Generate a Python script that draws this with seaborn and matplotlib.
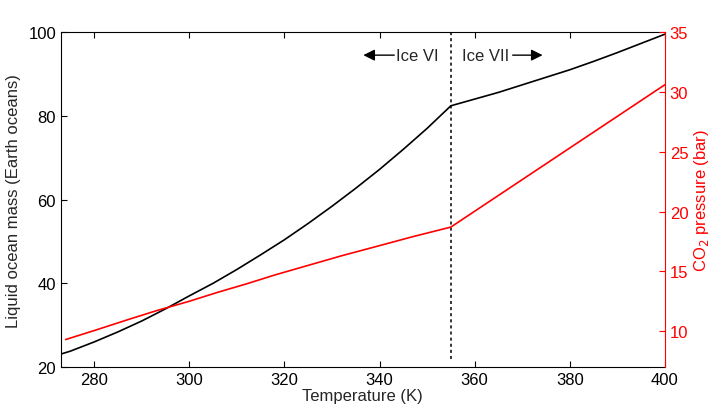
import pandas as pd
import matplotlib
matplotlib.use("Agg")
import matplotlib.pyplot as plt
import seaborn as sns

# liquid ocean mass (Earth oceans) vs temperature (K)
temp_mass = [273, 275, 280, 285, 290, 295, 300, 305, 310, 315, 320, 325, 330, 335,
             340, 345, 350, 355, 360, 365, 370, 375, 380, 385, 390, 395, 400]
ocean_mass = [23.1, 23.8, 26.0, 28.4, 31.0, 33.9, 37.0, 40.0, 43.3, 46.8, 50.4, 54.3, 58.4, 62.7,
              67.2, 72.0, 77.0, 82.4, 84.0, 85.6, 87.4, 89.2, 91.0, 93.0, 95.1, 97.3, 99.5]

# CO2 pressure (bar) vs temperature (K)
temp_co2 = [274, 280, 287, 293, 300, 306, 312, 318, 325, 332, 340, 347, 355, 400]
co2_pressure = [9.3, 10.05, 10.95, 11.7, 12.5, 13.25, 13.95, 14.7, 15.5, 16.3, 17.15, 17.9, 18.7, 30.6]

# Ice VI / Ice VII transition
t_transition = 355

sns.set_style("ticks")
plt.rcParams['font.family'] = ['Liberation Sans', 'DejaVu Sans']
plt.rcParams['font.size'] = 12

df_mass = pd.DataFrame({'T': temp_mass, 'mass': ocean_mass})
df_co2 = pd.DataFrame({'T': temp_co2, 'co2': co2_pressure})

fig = plt.figure(figsize=(7.25, 4.14), dpi=100)
ax = fig.add_axes([0.084, 0.111, 0.833, 0.809])
ax2 = ax.twinx()

sns.lineplot(data=df_mass, x='T', y='mass', ax=ax, color='black', linewidth=1.2)
sns.lineplot(data=df_co2, x='T', y='co2', ax=ax2, color='red', linewidth=1.2)

ax.plot([t_transition, t_transition], [22, 100], color='black',
        linestyle=(0, (2, 2)), linewidth=1.1)

ax.set_xlim(273, 400)
ax.set_ylim(20, 100)
ax2.set_ylim(7, 35)
ax.set_xticks([280, 300, 320, 340, 360, 380, 400])
ax.set_yticks([20, 40, 60, 80, 100])
ax2.set_yticks([10, 15, 20, 25, 30, 35])

ax.set_xlabel('Temperature (K)', labelpad=1)
ax.set_ylabel('Liquid ocean mass (Earth oceans)', labelpad=5)
ax2.set_ylabel('CO$_2$ pressure (bar)', color='red', labelpad=3)

ax.tick_params(direction='in', length=4, width=0.8, top=True, right=False, colors='black')
ax2.tick_params(direction='in', length=4, width=0.8, colors='red')

for s in ['left', 'top', 'bottom']:
    ax.spines[s].set_linewidth(0.8)
    ax.spines[s].set_color('black')
ax.spines['right'].set_visible(False)
ax2.spines['right'].set_color('red')
ax2.spines['right'].set_linewidth(0.8)
ax2.spines['left'].set_visible(False)
ax2.spines['top'].set_visible(False)
ax2.spines['bottom'].set_visible(False)

arrow = dict(arrowstyle='-|>', color='black', lw=1.0, mutation_scale=17,
             shrinkA=0, shrinkB=0)
ax.annotate('', xy=(336.6, 94.5), xytext=(343.1, 94.5), arrowprops=arrow)
ax.text(343.4, 94.5, 'Ice VI', ha='left', va='center', fontsize=12)
ax.text(357.3, 94.5, 'Ice VII', ha='left', va='center', fontsize=12)
ax.annotate('', xy=(374.3, 94.5), xytext=(368.0, 94.5), arrowprops=arrow)

fig.savefig('out.png', dpi=100)
